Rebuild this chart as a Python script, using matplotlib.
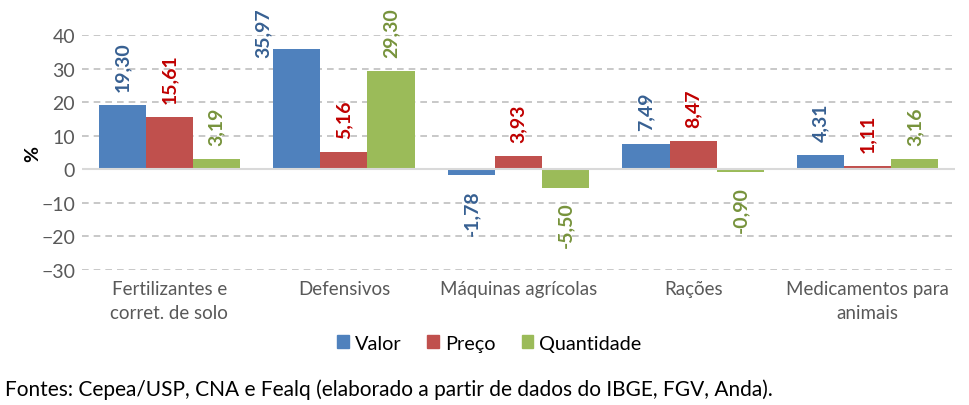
import numpy as np
import matplotlib.pyplot as plt
from matplotlib.patches import Patch

plt.rcParams['font.family'] = ['Lato', 'DejaVu Sans']

categorias = ['Fertilizantes e\ncorret. de solo', 'Defensivos', 'Máquinas agrícolas',
              'Rações', 'Medicamentos para\nanimais']
valor = [19.30, 35.97, -1.78, 7.49, 4.31]
preco = [15.61, 5.16, 3.93, 8.47, 1.11]
quantidade = [3.19, 29.30, -5.50, -0.90, 3.16]
series = ['Valor', 'Preço', 'Quantidade']

cores = ['#4F81BD', '#C0504D', '#9BBB59']
cores_rot = ['#376092', '#C00000', '#77933C']

fig = plt.figure(figsize=(9.69, 4.06), dpi=100)
ax = fig.add_axes([0.0846, 0.3325, 0.901, 0.5788])

x = np.arange(len(categorias))
w = 0.27
for i, (vals, c, cr) in enumerate(zip([valor, preco, quantidade], cores, cores_rot)):
    bars = ax.bar(x + (i - 1) * w, vals, w, color=c, zorder=3)
    for b, v in zip(bars, vals):
        txt = f'{v:.2f}'.replace('.', ',')
        if v > 33:
            # nao cabe acima: fica ao lado esquerdo da barra
            ax.annotate(txt, (b.get_x(), v), xytext=(-1, -6), textcoords='offset points',
                        ha='right', va='bottom', rotation=90, color=cr,
                        fontsize=14, fontweight='bold', annotation_clip=False)
        elif v >= 0:
            ax.annotate(txt, (b.get_x() + w / 2, v), xytext=(0, 10), textcoords='offset points',
                        ha='center', va='bottom', rotation=90, color=cr,
                        fontsize=14, fontweight='bold', annotation_clip=False)
        else:
            ax.annotate(txt, (b.get_x() + w / 2, v), xytext=(0, -10), textcoords='offset points',
                        ha='center', va='top', rotation=90, color=cr,
                        fontsize=14, fontweight='bold', annotation_clip=False)

ax.set_xlim(-0.5, len(categorias) - 0.5)
ax.set_ylim(-30, 40)
ax.set_yticks(range(-30, 41, 10))
ax.yaxis.grid(True, linestyle=(0, (4, 3)), color='#BFBFBF', linewidth=1.2, zorder=0)
ax.axhline(0, color='#D9D9D9', linewidth=1.5, zorder=4)
for s in ax.spines.values():
    s.set_visible(False)
ax.tick_params(axis='both', length=0, labelsize=14, colors='#595959')
ax.tick_params(axis='y', pad=5)
ax.tick_params(axis='x', pad=7)
ax.set_xticks(x)
ax.set_xticklabels(categorias, fontsize=13.5, color='#595959', linespacing=1.5)
ax.set_ylabel('%', fontsize=14, fontweight='bold', color='black', labelpad=0)

handles = [Patch(color=c, label=s) for c, s in zip(cores, series)]
fig.legend(handles=handles, loc='center', bbox_to_anchor=(0.505, 0.152), ncol=3,
           frameon=False, fontsize=14.3, handlelength=0.6, handleheight=0.6,
           handletextpad=0.3, columnspacing=1.3)

fig.text(0.005, 0.04, 'Fontes: Cepea/USP, CNA e Fealq (elaborado a partir de dados do IBGE, FGV, Anda).',
         fontsize=15, color='black', ha='left', va='center')

fig.savefig('out.png', dpi=100)
